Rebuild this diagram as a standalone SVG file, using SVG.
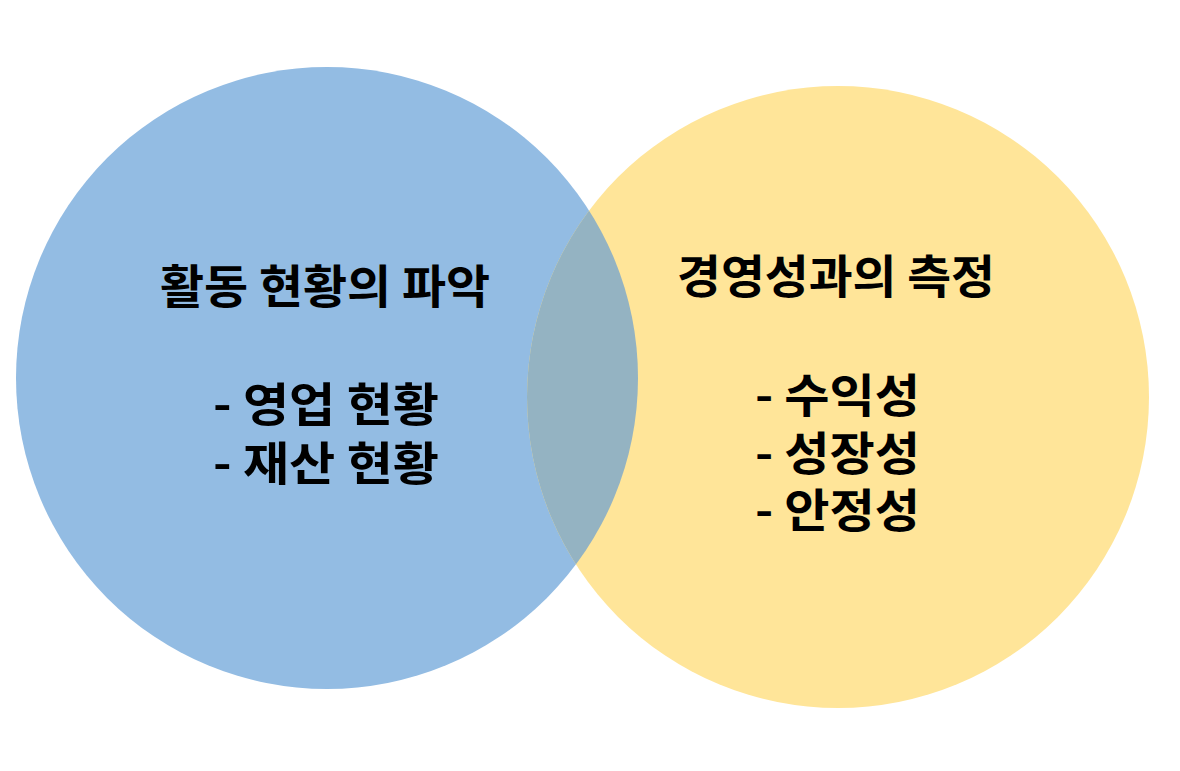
<svg xmlns="http://www.w3.org/2000/svg" width="1180" height="771" viewBox="0 0 1180 771">
<defs>
<style>
.t{font-family:"Noto Sans CJK KR","Noto Sans",sans-serif;font-weight:bold;font-size:46px;fill:#000}
</style>
<clipPath id="clipL"><circle cx="327" cy="378" r="311"/></clipPath>
</defs>
<rect width="1180" height="771" fill="#fff"/>
<g id="circle-left"><circle cx="327" cy="378" r="311" fill="#93BCE3"/></g>
<g id="circle-right"><circle cx="838" cy="397" r="311" fill="#FFE599"/></g>
<g id="overlap"><circle cx="838" cy="397" r="311" fill="#94B3C2" clip-path="url(#clipL)"/></g>
<g id="label-left">
<text class="t" x="160" y="303" textLength="330" lengthAdjust="spacingAndGlyphs">활동 현황의 파악</text>
<text class="t" x="213" y="421" textLength="226" lengthAdjust="spacingAndGlyphs">- 영업 현황</text>
<text class="t" x="213" y="480" textLength="226" lengthAdjust="spacingAndGlyphs">- 재산 현황</text>
</g>
<g id="label-right">
<text class="t" x="677" y="293" textLength="318" lengthAdjust="spacingAndGlyphs">경영성과의 측정</text>
<text class="t" x="755" y="412" textLength="165" lengthAdjust="spacingAndGlyphs">- 수익성</text>
<text class="t" x="755" y="470" textLength="165" lengthAdjust="spacingAndGlyphs">- 성장성</text>
<text class="t" x="755" y="527" textLength="165" lengthAdjust="spacingAndGlyphs">- 안정성</text>
</g>
</svg>
